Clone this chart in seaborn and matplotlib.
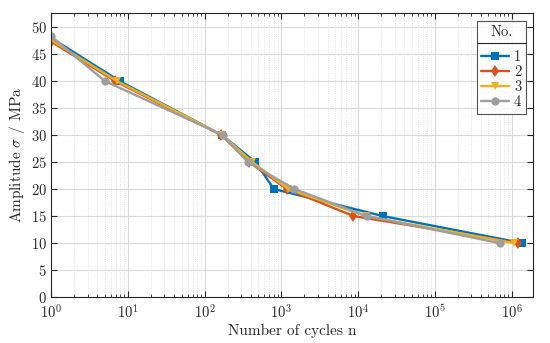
import numpy as np
import pandas as pd
import seaborn as sns
import matplotlib.pyplot as plt
from matplotlib.ticker import LogLocator, MultipleLocator, NullFormatter

# cycles / amplitude
n_1 = [1, 7.8, 168, 460, 800, 2.1e4, 1.38e6]
s_1 = [48.0, 40, 30, 25, 20, 15, 10]
n_2 = [1, 6.8, 165, 380, 1180, 8700, 1.21e6]
s_2 = [47.3, 40, 30, 25, 20, 15, 10]
n_3 = [1, 7.2, 170, 420, 1230, 1.26e4, 1.07e6]
s_3 = [47.6, 40, 30, 25, 20, 15, 10]
n_4 = [1, 5.0, 172, 366, 1480, 1.29e4, 7.0e5]
s_4 = [48.3, 40, 30, 25, 20, 15, 10]
labels = ['1', '2', '3', '4']
x_ticks = [1e0, 1e1, 1e2, 1e3, 1e4, 1e5, 1e6]

colors = ['#0072BD', '#D95319', '#EDB120', '#9E9E9E']
marks = ['s', 'd', 'v', 'o']

df = pd.concat([
    pd.DataFrame({'n': n, 'amp': s, 'No.': lab})
    for n, s, lab in zip([n_1, n_2, n_3, n_4], [s_1, s_2, s_3, s_4], labels)
])

sns.set_style('ticks')
plt.rcParams['font.family'] = 'serif'
plt.rcParams['font.serif'] = ['cmr10', 'DejaVu Serif']
plt.rcParams['mathtext.fontset'] = 'cm'
plt.rcParams['axes.formatter.use_mathtext'] = True

fig = plt.figure(figsize=(5.5, 3.43), dpi=100)
ax = fig.add_axes([0.093, 0.134, 0.876, 0.828])

sns.lineplot(data=df, x='n', y='amp', hue='No.', style='No.', markers=marks,
             dashes=False, palette=colors, linewidth=1.7, markersize=6,
             markeredgewidth=0, sort=False, ax=ax)

ax.set_xscale('log')
ax.set_xlim(1, 1.9e6)
ax.set_ylim(0, 52.6)
ax.yaxis.set_major_locator(MultipleLocator(5))
ax.set_xticks(x_ticks)
ax.xaxis.set_minor_locator(LogLocator(base=10, subs=np.arange(2, 10), numticks=100))
ax.xaxis.set_minor_formatter(NullFormatter())

ax.grid(True, which='major', color='#d9d9d9', linewidth=0.8)
ax.grid(True, which='minor', color='#d9d9d9', linewidth=0.6, linestyle=':')
ax.set_axisbelow(True)
ax.tick_params(which='both', direction='in', top=True, right=True, colors='#262626',
               labelsize=10.5)
ax.tick_params(which='major', length=4)
ax.tick_params(axis='x', which='major', pad=5)
ax.tick_params(axis='y', which='major', pad=3)
ax.tick_params(which='minor', length=2)
for sp in ax.spines.values():
    sp.set_visible(True)
    sp.set_color('#262626')
    sp.set_linewidth(0.8)

ax.set_xlabel('Number of cycles n', fontsize=11, color='#262626', labelpad=1)
ax.set_ylabel(r'Amplitude $\sigma$ / MPa', fontsize=11, color='#262626', labelpad=3)

leg = ax.legend(title='No.', loc='upper right', fontsize=10.5, title_fontsize=10.5,
                frameon=True, fancybox=False, edgecolor='#262626', handlelength=1.9,
                handletextpad=0.35, borderpad=0.3, labelspacing=0.1,
                borderaxespad=0, bbox_to_anchor=(0.985, 0.972))
leg.get_frame().set_linewidth(0.8)
for h in leg.legend_handles:
    h.set_linewidth(1.7)
    h.set_markersize(6)
# more room between title and entries, like the reference
leg._legend_box.sep = 8

fig.canvas.draw()
# separator line under the legend title
fb = leg.get_frame().get_window_extent()
tb = leg.get_title().get_window_extent()
ysep = tb.y0 - 4
inv = fig.transFigure.inverted()
(x0, y0), (x1, _) = inv.transform([(fb.x0, ysep), (fb.x1, ysep)])
fig.add_artist(plt.Line2D([x0, x1], [y0, y0], color='#262626', linewidth=0.8))

plt.savefig('out.png', dpi=100)
